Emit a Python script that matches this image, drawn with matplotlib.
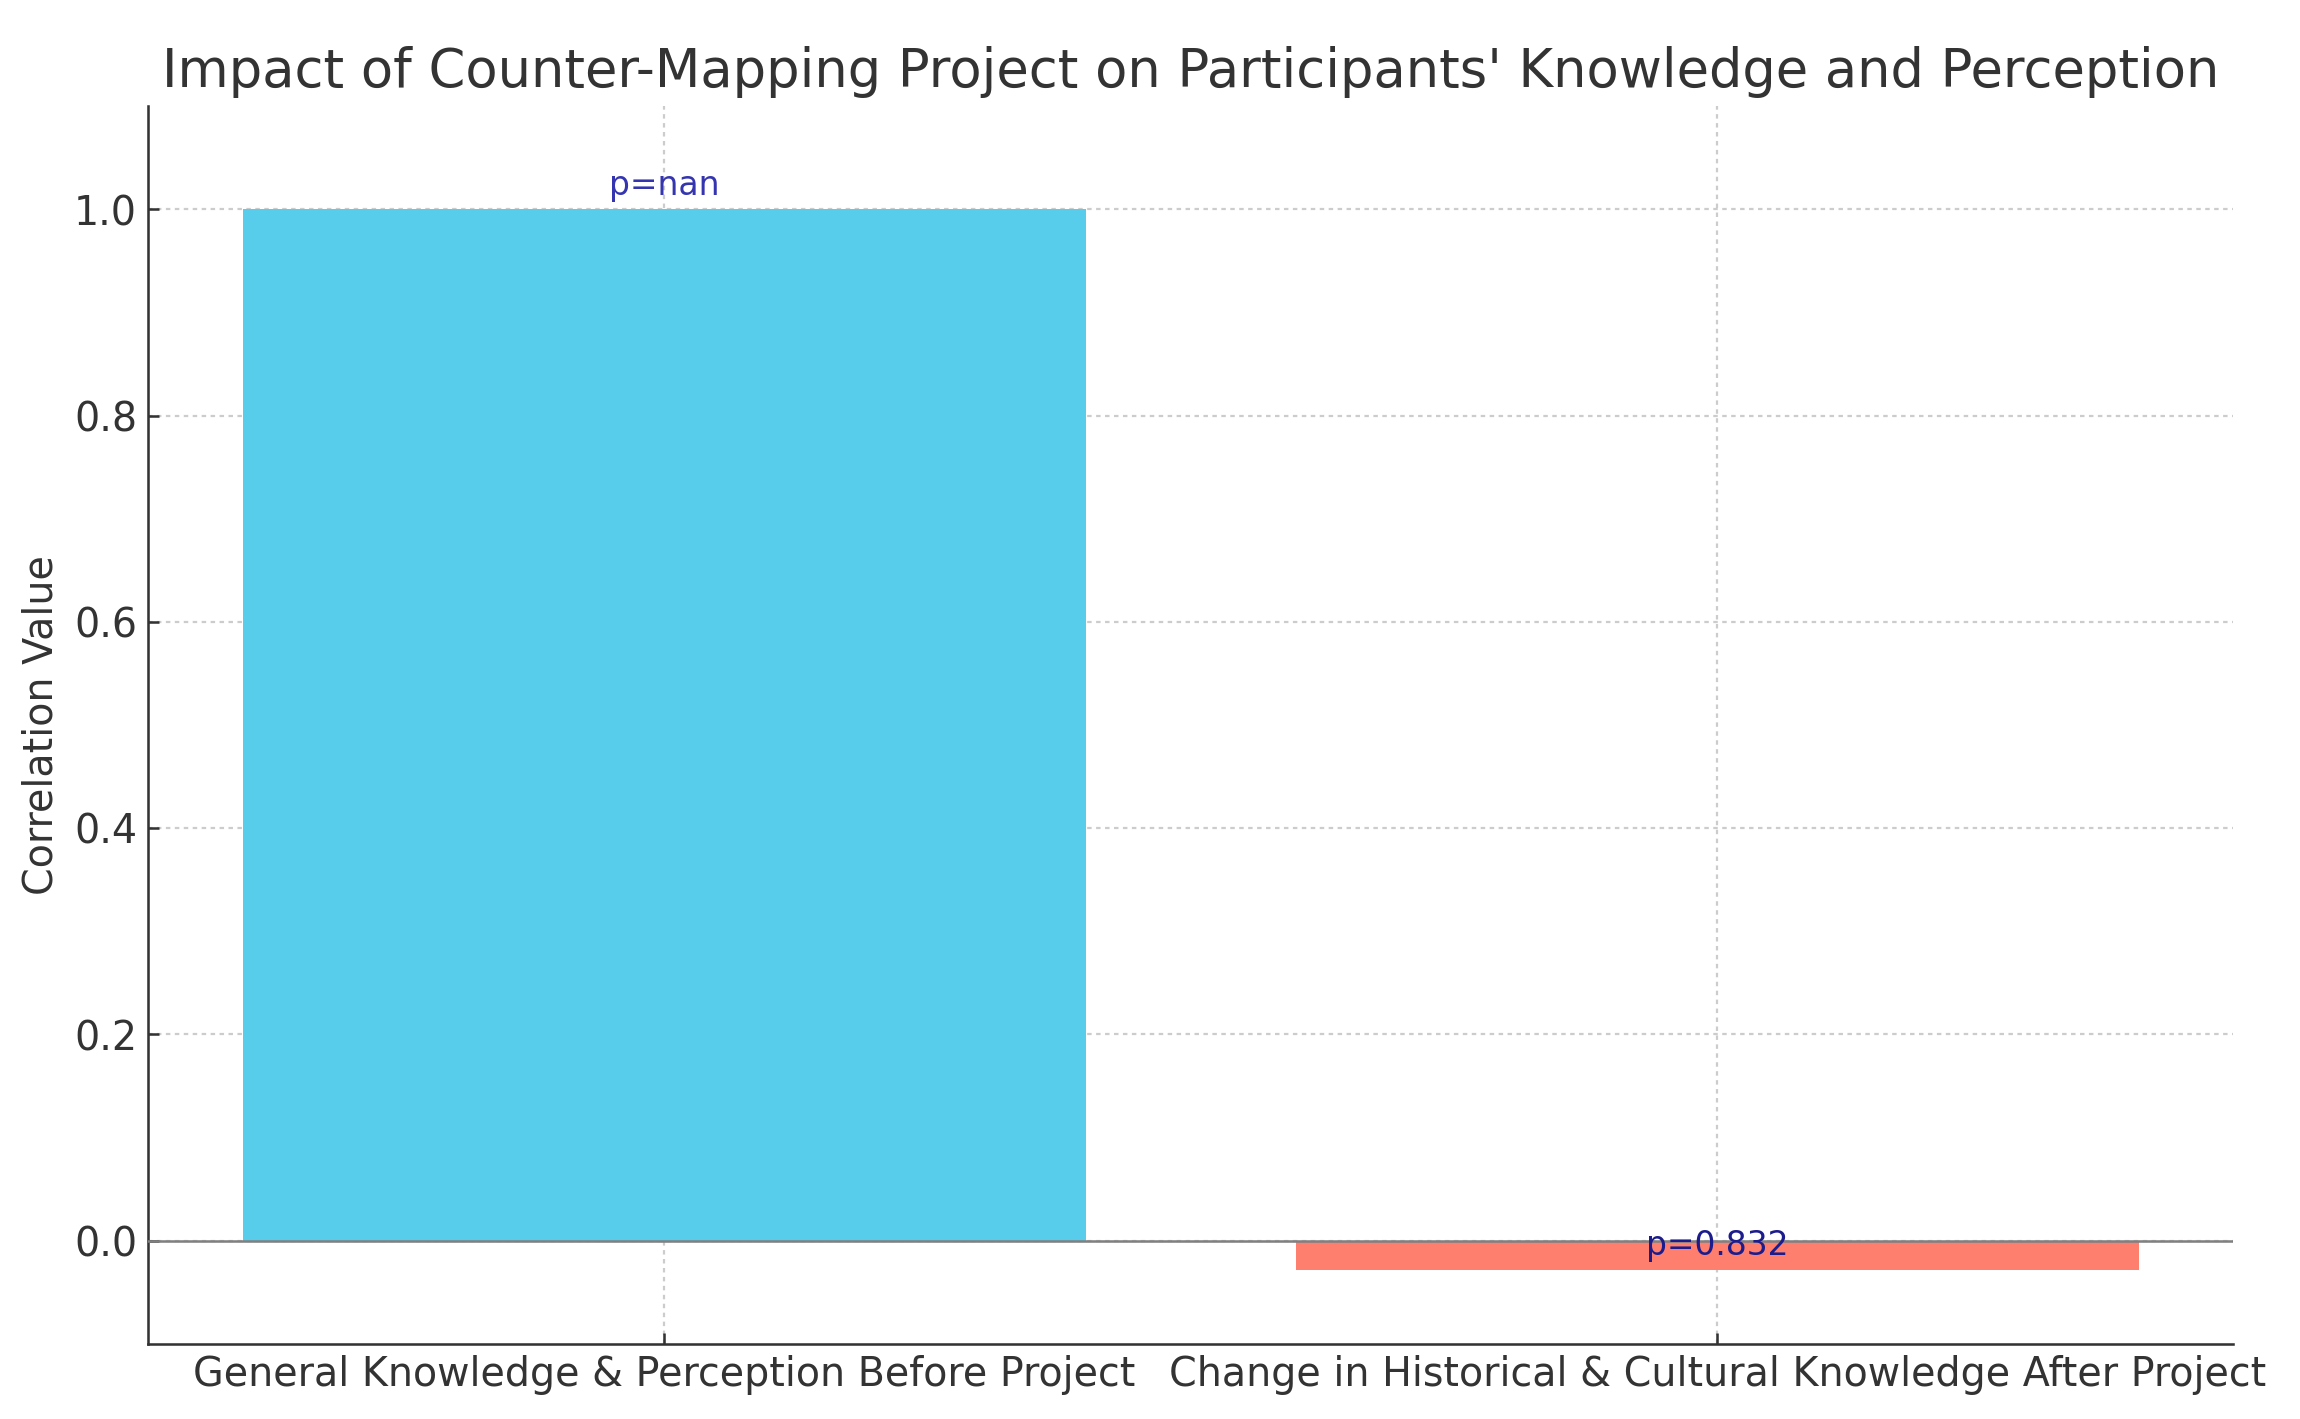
import matplotlib
matplotlib.use("Agg")
import matplotlib.pyplot as plt

# Correlation values per survey section
categories = ['General Knowledge & Perception Before Project',
              'Change in Historical & Cultural Knowledge After Project']
correlations = [1.0, -0.028]
p_labels = ['p=nan', 'p=0.832']
bar_colors = ['#57CDEB', '#FF7F6F']
label_colors = ['#3535B0', '#1C1C8C']

text_grey = '#333333'
plt.rcParams['font.family'] = 'DejaVu Sans'

fig, ax = plt.subplots(figsize=(10, 6.17), dpi=230)
fig.subplots_adjust(left=0.0645, right=0.971, top=0.925, bottom=0.053)

bars = ax.bar(categories, correlations, color=bar_colors, width=0.8, zorder=2)
ax.axhline(0, color='grey', linewidth=0.8, zorder=3)

for bar, lab, c in zip(bars, p_labels, label_colors):
    yval = bar.get_height()
    ax.text(bar.get_x() + bar.get_width() / 2, yval + 0.007, lab,
            ha='center', va='bottom', fontsize=10.3, color=c, zorder=4)

ax.set_ylim(-0.1, 1.1)
ax.set_title("Impact of Counter-Mapping Project on Participants' Knowledge and Perception",
             fontsize=16.5, color=text_grey)
ax.set_ylabel('Correlation Value', fontsize=12.4, color=text_grey)
ax.tick_params(axis='both', direction='in', labelsize=12.4, labelcolor=text_grey, colors=text_grey)
ax.grid(True, linestyle=(0, (2, 2)), color='#CCCCCC', linewidth=0.7, zorder=0)
ax.set_axisbelow(True)
for side in ['top', 'right']:
    ax.spines[side].set_visible(False)
for side in ['left', 'bottom']:
    ax.spines[side].set_color(text_grey)

plt.savefig('out.png', dpi=230)
